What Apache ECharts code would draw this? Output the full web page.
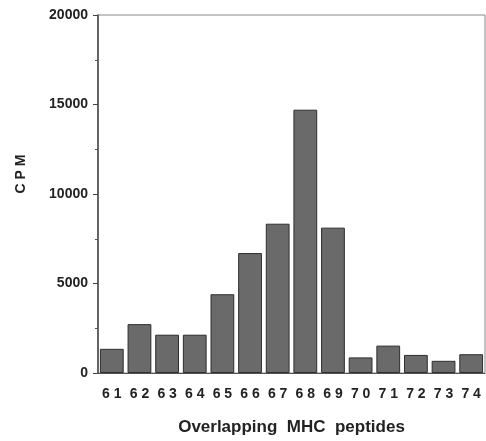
<!DOCTYPE html>
<html>
<head>
<meta charset="utf-8">
<script src="https://cdn.jsdelivr.net/npm/echarts@6/dist/echarts.min.js"></script>
<style>
    html, body { margin: 0; padding: 0; background: #fff; }
    #chart { width: 486px; height: 441px; }
</style>
</head>
<body>
<div id="chart"></div>
<script>
// peptides 61..74 and their CPM
var peptides = ['61', '62', '63', '64', '65', '66', '67', '68', '69', '70', '71', '72', '73', '74'];
var cpm = [1350, 2730, 2140, 2140, 4400, 6700, 8340, 14710, 8120, 870, 1530, 1010, 680, 1050];
var yTicks = [0, 5000, 10000, 15000, 20000];

var font = '"Liberation Sans", Arial, Helvetica, sans-serif';

var myChart = echarts.init(document.getElementById('chart'));

var option = {
    animation: false,
    grid: {
        left: 98,
        right: 1,
        top: 15,
        bottom: 64,
        show: true,
        borderColor: '#888',
        borderWidth: 1
    },
    xAxis: {
        type: 'category',
        data: peptides,
        name: 'Overlapping  MHC  peptides',
        nameLocation: 'middle',
        nameGap: 46,
        nameTextStyle: { fontFamily: font, fontWeight: 'bold', fontSize: 17, color: '#222' },
        axisLine: { lineStyle: { color: '#555', width: 1 } },
        axisTick: { show: false },
        axisLabel: {
            margin: 14,
            fontFamily: font,
            fontWeight: 'bold',
            fontSize: 14,
            color: '#222',
            // digits are printed spaced apart in the figure
            formatter: function (v) { return v.split('').join(' '); }
        }
    },
    yAxis: {
        type: 'value',
        min: yTicks[0],
        max: yTicks[yTicks.length - 1],
        interval: 5000,
        name: 'C P M',
        nameLocation: 'middle',
        nameGap: 70,
        nameTextStyle: { fontFamily: font, fontWeight: 'bold', fontSize: 14, color: '#222', padding: [0, 0, 0, 40] },
        axisLine: { show: true, lineStyle: { color: '#444', width: 1.5 } },
        axisTick: { show: true, length: 5, lineStyle: { color: '#444' } },
        minorTick: { show: true, splitNumber: 2, length: 3, lineStyle: { color: '#555' } },
        splitLine: { show: false },
        axisLabel: {
            margin: 10,
            fontFamily: font,
            fontWeight: 'bold',
            fontSize: 14,
            color: '#222',
            formatter: function (v) { return String(v); }
        }
    },
    series: [
        {
            name: 'CPM',
            type: 'bar',
            data: cpm,
            barCategoryGap: '14%',
            itemStyle: {
                color: '#6a6a6a',
                borderColor: '#2e2e2e',
                borderWidth: 1
            }
        }
    ]
};
option && myChart.setOption(option);
</script>
</body>
</html>
